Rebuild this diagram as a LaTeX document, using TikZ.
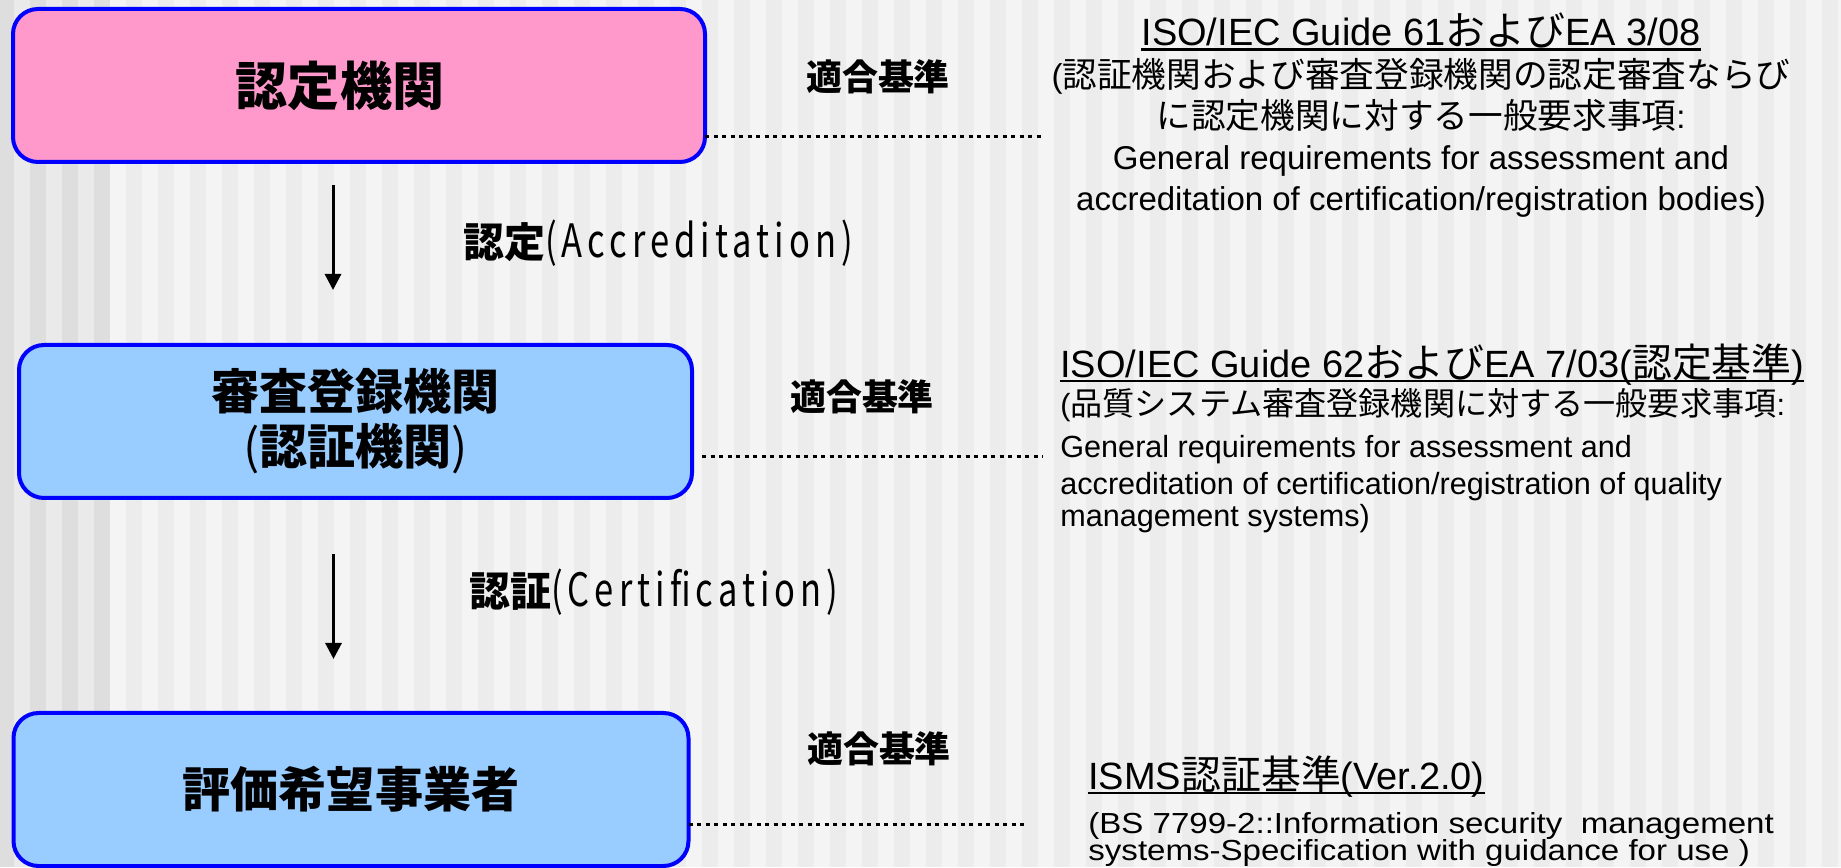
\documentclass[tikz,border=0pt]{standalone}
\usepackage{fontspec}
\setmainfont{Liberation Sans}
\newfontfamily\jpfont[Scale=1.05]{Noto Sans CJK JP}
\newcommand{\ja}[1]{{\jpfont #1}}
\newcommand{\stdhead}[1]{\setbox0=\hbox{#1}\rlap{\rule[-2.5pt]{\wd0}{1.1pt}}\box0}
\usetikzlibrary{positioning, arrows.meta}
\definecolor{orgpink}{HTML}{FF99CC}
\definecolor{orgblue}{HTML}{99CCFF}
\definecolor{stripeD}{HTML}{DEDEDE}
\definecolor{stripeL}{HTML}{EAEAEA}
\definecolor{stripeE}{HTML}{F4F4F4}
\definecolor{stripeF}{HTML}{ECECEC}

\begin{document}
\begin{tikzpicture}[x=0.5pt, y=0.5pt, node distance=90pt]
  \tikzstyle{orgbox}=[draw=blue, line width=2pt, rounded corners=12.5pt, minimum height=76.5pt, outer sep=0pt, inner sep=0pt, align=center, font=\jpfont\bfseries\fontsize{22.9}{27.6}\selectfont]
  \tikzstyle{flow}=[line width=1.5pt, -{Triangle[length=8pt,width=8pt]}]
  \tikzstyle{dotline}=[line width=1.5pt, dash pattern=on 2pt off 2.25pt]
  \tikzstyle{fit}=[font=\jpfont\bfseries\fontsize{17.1}{20}\selectfont]
  \tikzstyle{rel}=[font=\jpfont\fontsize{19.5}{24}\selectfont]
  \tikzstyle{std}=[inner sep=0pt]

  % background stripes
  \useasboundingbox (0,0) rectangle (1841,867);
  \fill[stripeD] (-2,0) rectangle (110,867);
  \foreach \i in {0,2,4} \fill[stripeL] ({14+16*\i},0) rectangle ({30+16*\i},867);
  \fill[stripeE] (110,0) rectangle (1841,867);
  \foreach \i in {0,...,54} \fill[stripeF] ({126+32*\i},0) rectangle ({142+32*\i},867);

  % organisations
  \node[orgbox, fill=orgpink, minimum width=346pt, font=\jpfont\bfseries\fontsize{24.8}{30}\selectfont] (accbody) at (359,781.5) {認定機関\kern19pt};
  \node[orgbox, fill=orgblue, minimum width=336.5pt, below=91.5pt of accbody, xshift=-1.75pt] (certbody) {審査登録機関\\{\mdseries(}認証機関{\mdseries)}};
  \node[orgbox, fill=orgblue, minimum width=337.5pt, below=107.5pt of certbody, xshift=-2.25pt] (applicant) {評価希望事業者};

  \draw[flow] ([xshift=-13pt, yshift=-11.5pt]accbody.south) -- ([xshift=-11.25pt, yshift=27.5pt]certbody.north)
    node[rel, midway, right=61pt, yshift=-2.75pt] (accrel) {{\bfseries 認定}{\fontsize{21.9}{24}\selectfont\addfontfeature{FakeStretch=0.75, LetterSpace=11}(Accreditation)}};
  \draw[flow] ([xshift=-11pt, yshift=-28pt]certbody.south) -- ([xshift=-8.75pt, yshift=27pt]applicant.north)
    node[rel, midway, right=63.75pt, yshift=7.25pt] (certrel) {{\bfseries 認証}{\fontsize{21.9}{24}\selectfont\addfontfeature{FakeStretch=0.75, LetterSpace=11}(Certification)}};

  % conformity criteria
  \coordinate (accend) at (1041,730);
  \coordinate (certend) at (1043,410);
  \coordinate (append) at (1028,42);
  \draw[dotline] (accbody.east |- accend) -- (accend);
  \draw[dotline, shorten <=5pt] (certbody.east |- certend) -- (certend);
  \draw[dotline] (applicant.east |- append) -- (append);
  \node[fit] (accfit) at (878,790) {適合基準};
  \node[fit] (certfit) at (862,470) {適合基準};
  \node[fit] (appfit) at (879,118.5) {適合基準};

  \node[std, anchor=north, align=center, font=\fontsize{16.5}{20.5}\selectfont\lineskiplimit-20pt] (acctext) at (1421,854.5)
    {{\fontsize{19}{22}\selectfont\stdhead{ISO/IEC Guide 61\ja{および}EA 3/08}}\\[0.5pt]
     (\ja{認証機関および審査登録機関の認定審査ならび}\\
     \ja{に認定機関に対する一般要求事項}:\\
     General requirements for assessment and\\
     accreditation of certification/registration bodies)};
  \node[std, anchor=north west, align=left, font=\fontsize{15.3}{17}\selectfont\lineskiplimit-20pt] (certtext) at (1060,524)
    {{\fontsize{19}{22}\selectfont\stdhead{ISO/IEC Guide 62\ja{および}EA 7/03(\ja{認定基準})}}\\[2pt]
     (\ja{品質システム審査登録機関に対する一般要求事項}:\\[4pt]
     General requirements for assessment and\\[1.5pt]
     accreditation of certification/registration of quality\\[-1pt]
     management systems)};
  \node[std, anchor=north west, align=left, font=\fontsize{14.5}{13.5}\selectfont\addfontfeature{FakeStretch=1.14}\lineskiplimit-20pt] (apptext) at (1088,112)
    {{\fontsize{19}{22}\selectfont\addfontfeature{FakeStretch=1}\stdhead{ISMS\ja{認証基準}(Ver.2.0)}}\\[8.5pt]
     (BS 7799-2::Information security\ \ management\\
     systems-Specification with guidance for use )};
\end{tikzpicture}
\end{document}
